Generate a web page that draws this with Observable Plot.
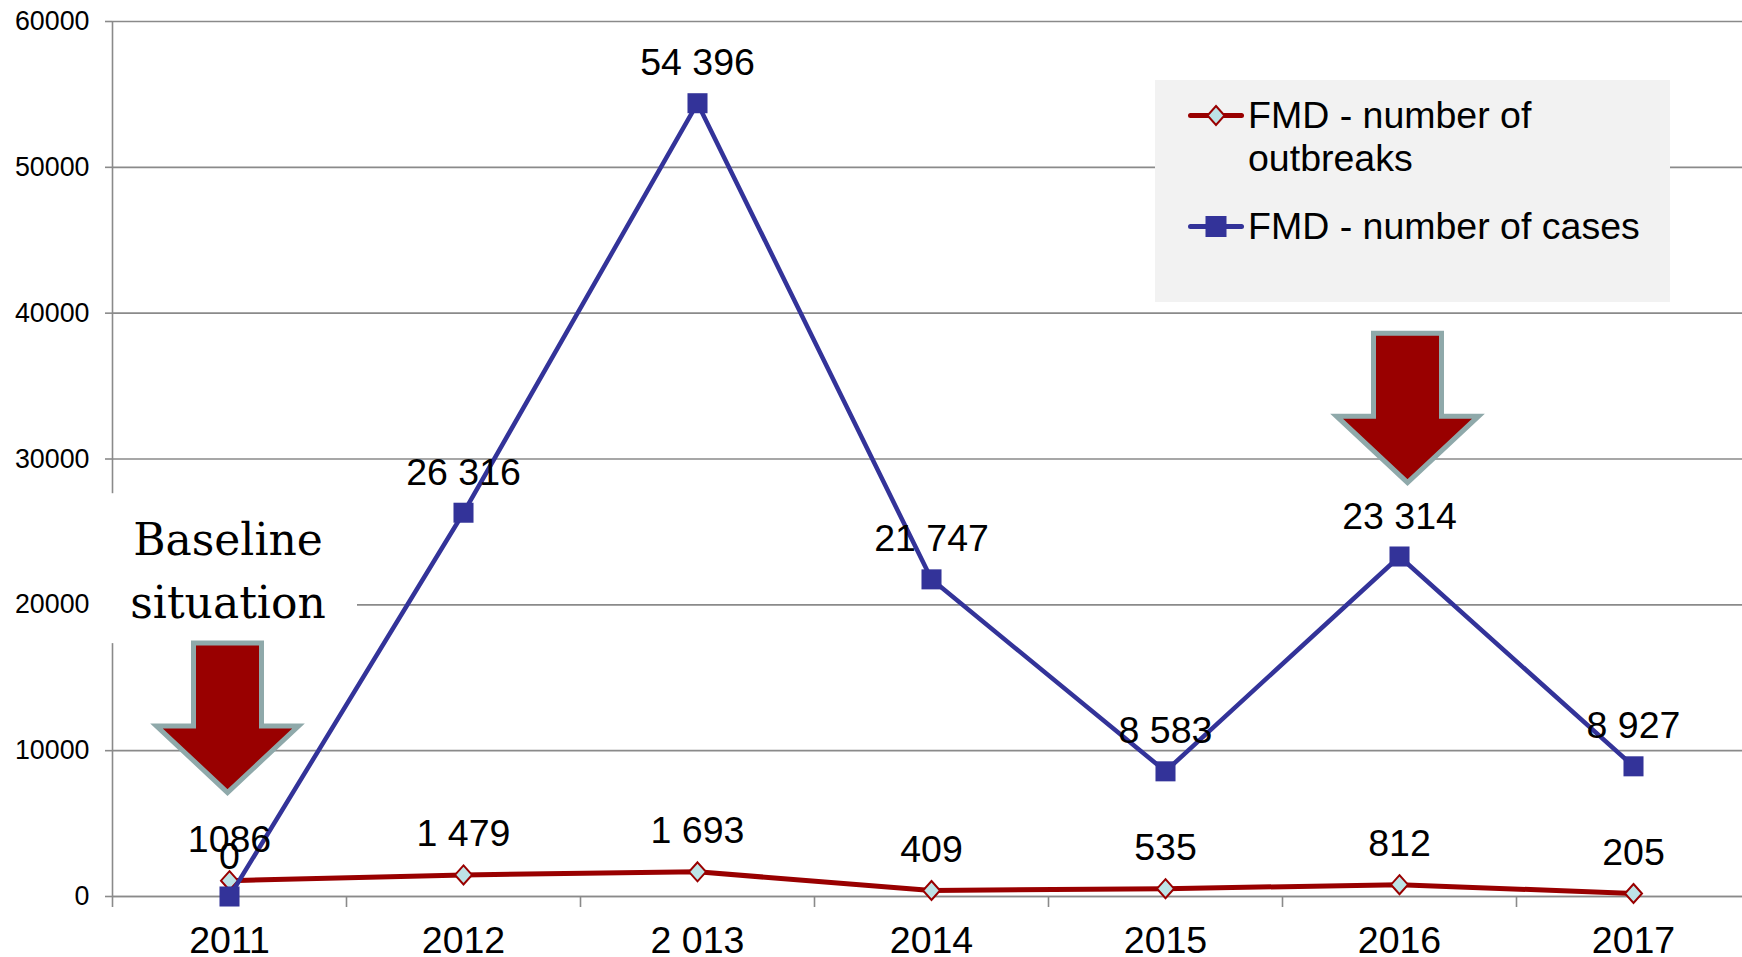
<!DOCTYPE html>
<html>
<head>
<meta charset="utf-8">
<script src="https://cdn.jsdelivr.net/npm/d3@7"></script>
<script src="https://cdn.jsdelivr.net/npm/@observablehq/plot@0.6"></script>
<style>
  html, body { margin: 0; padding: 0; overflow: hidden; background: #ffffff; }
  #wrap { position: relative; width: 1742px; height: 957px; overflow: hidden; }
  #legend { position: absolute; left: 1155px; top: 80px; width: 515px; height: 222px; background: #F2F2F2;
            font-family: "Liberation Sans", Arial, sans-serif; font-size: 37.5px; color: #000; }
  .item { position: absolute; left: 33px; display: flex; align-items: flex-start; }
  .item svg { flex: none; width: 60px; height: 43px; }
  .item span { display: block; width: 415px; line-height: 43px; }
</style>
</head>
<body>
<div id="wrap">
  <div id="chart"></div>
  <div id="legend"></div>
</div>
<script>
// ---- data ----
const years = ["2011", "2012", "2 013", "2014", "2015", "2016", "2017"];
const cases = [0, 26316, 54396, 21747, 8583, 23314, 8927];
const outbreaks = [1086, 1479, 1693, 409, 535, 812, 205];
const caseLabels = ["0", "26 316", "54 396", "21 747", "8 583", "23 314", "8 927"];
const outbreakLabels = ["1086", "1 479", "1 693", "409", "535", "812", "205"];
const yTicks = [0, 10000, 20000, 30000, 40000, 50000, 60000];
const seriesNames = ["FMD - number of outbreaks", "FMD - number of cases"];
const annotationText = "Baseline\nsituation";
const annotationYear = "2011";
const annotationValue = 22650;
const annotationBox = [17340, 27620];
const arrowYears = ["2011", "2016"];
const arrowTips = [7130, 28380];

// ---- styles ----
const RED = "#990000", BLUE = "#333399", CYAN = "#BDE3E6", GRID = "#8a8a8a";
const ARROW_FILL = "#990000", ARROW_STROKE = "#8FA9AA";
const W = 1742, H = 957;
const step = (W - 112 + 8) / years.length;

const rows = years.map((y, i) => ({
  year: y, cases: cases[i], outbreaks: outbreaks[i], cl: caseLabels[i], ol: outbreakLabels[i]
}));
const arrows = arrowYears.map((y, i) => ({year: y, tip: arrowTips[i]}));

const diamondSym = {
  draw(ctx) {
    ctx.moveTo(0, -9.5); ctx.lineTo(8.5, 0); ctx.lineTo(0, 9.5); ctx.lineTo(-8.5, 0); ctx.closePath();
  }
};
const arrowSym = {
  draw(ctx) {
    ctx.moveTo(-34, -149.5); ctx.lineTo(34, -149.5); ctx.lineTo(34, -66.5); ctx.lineTo(71, -66.5);
    ctx.lineTo(0, 0); ctx.lineTo(-71, -66.5); ctx.lineTo(-34, -66.5); ctx.closePath();
  }
};

const chart = Plot.plot({
  width: W, height: H,
  marginLeft: 112, marginRight: -8, marginTop: 21, marginBottom: 61,
  x: {type: "band", domain: years, padding: 0},
  y: {domain: [0, 60000]},
  style: {background: "transparent", fontFamily: "'Liberation Sans', Arial, sans-serif", color: "black"},
  marks: [
    Plot.gridY(yTicks, {stroke: GRID, strokeOpacity: 1, strokeWidth: 1.6}),
    Plot.ruleY([0], {stroke: GRID, strokeWidth: 1.6}),
    Plot.ruleX([years[0]], {x: d => d, y1: 0, y2: 60000, dx: -step / 2, stroke: GRID, strokeWidth: 1.6}),
    Plot.axisY(yTicks, {tickSize: 7, tickPadding: 16, fontSize: 26.8, stroke: GRID, strokeWidth: 1.6, fill: "black",
                        tickFormat: d => String(d), label: null}),
    Plot.axisX({tickSize: 11, tickFormat: () => "", dx: -step / 2, stroke: GRID, strokeWidth: 1.6, label: null}),
    Plot.axisX({tickSize: 0, tickPadding: 30, fontSize: 37.5, fill: "black", label: null}),
    Plot.barY([annotationYear], {x: d => d, y1: annotationBox[0], y2: annotationBox[1], fill: "white",
                                 insetLeft: -10, insetRight: -11}),
    Plot.text([annotationText], {x: () => annotationYear, y: () => annotationValue, text: d => d,
                                 fontFamily: "'DejaVu Serif', serif", fontSize: 44, lineHeight: 1.43,
                                 fill: "black", dx: -1.5}),
    Plot.dot([arrows[0]], {x: "year", y: "tip", symbol: arrowSym, r: 10, fill: ARROW_FILL, stroke: ARROW_STROKE,
                           strokeWidth: 5, strokeLinejoin: "miter", dx: -2}),
    Plot.dot([arrows[1]], {x: "year", y: "tip", symbol: arrowSym, r: 10, fill: ARROW_FILL, stroke: ARROW_STROKE,
                           strokeWidth: 5, strokeLinejoin: "miter", dx: 8}),
    Plot.line(rows, {x: "year", y: "outbreaks", stroke: RED, strokeWidth: 5}),
    Plot.dot(rows, {x: "year", y: "outbreaks", symbol: diamondSym, r: 9, fill: CYAN, stroke: RED, strokeWidth: 2}),
    Plot.line(rows, {x: "year", y: "cases", stroke: BLUE, strokeWidth: 4.5}),
    Plot.dot(rows, {x: "year", y: "cases", symbol: "square", r: 11.3, fill: BLUE, stroke: "none"}),
    Plot.text(rows, {x: "year", y: "outbreaks", text: "ol", dy: -41, fontSize: 37.5, fill: "black"}),
    Plot.text(rows, {x: "year", y: "cases", text: "cl", dy: -40, fontSize: 37.5, fill: "black"})
  ]
});
document.getElementById("chart").appendChild(chart);

// ---- legend ----
const legend = d3.select("#legend");
const items = [
  {name: seriesNames[0], color: RED, marker: "diamond", top: 13.5},
  {name: seriesNames[1], color: BLUE, marker: "square", top: 124.5}
];
for (const it of items) {
  const div = legend.append("div").attr("class", "item").style("top", it.top + "px");
  const svg = div.append("svg").attr("viewBox", "0 0 60 43");
  svg.append("line").attr("x1", 2.5).attr("x2", 53.5).attr("y1", 21.5).attr("y2", 21.5)
    .attr("stroke", it.color).attr("stroke-width", 5).attr("stroke-linecap", "round");
  if (it.marker === "diamond") {
    svg.append("path").attr("d", "M28,12 L36.5,21.5 L28,31 L19.5,21.5 Z")
      .attr("fill", CYAN).attr("stroke", RED).attr("stroke-width", 2);
  } else {
    svg.append("rect").attr("x", 17.5).attr("y", 11).attr("width", 21).attr("height", 21).attr("fill", BLUE);
  }
  div.append("span").text(it.name);
}
</script>
</body>
</html>
